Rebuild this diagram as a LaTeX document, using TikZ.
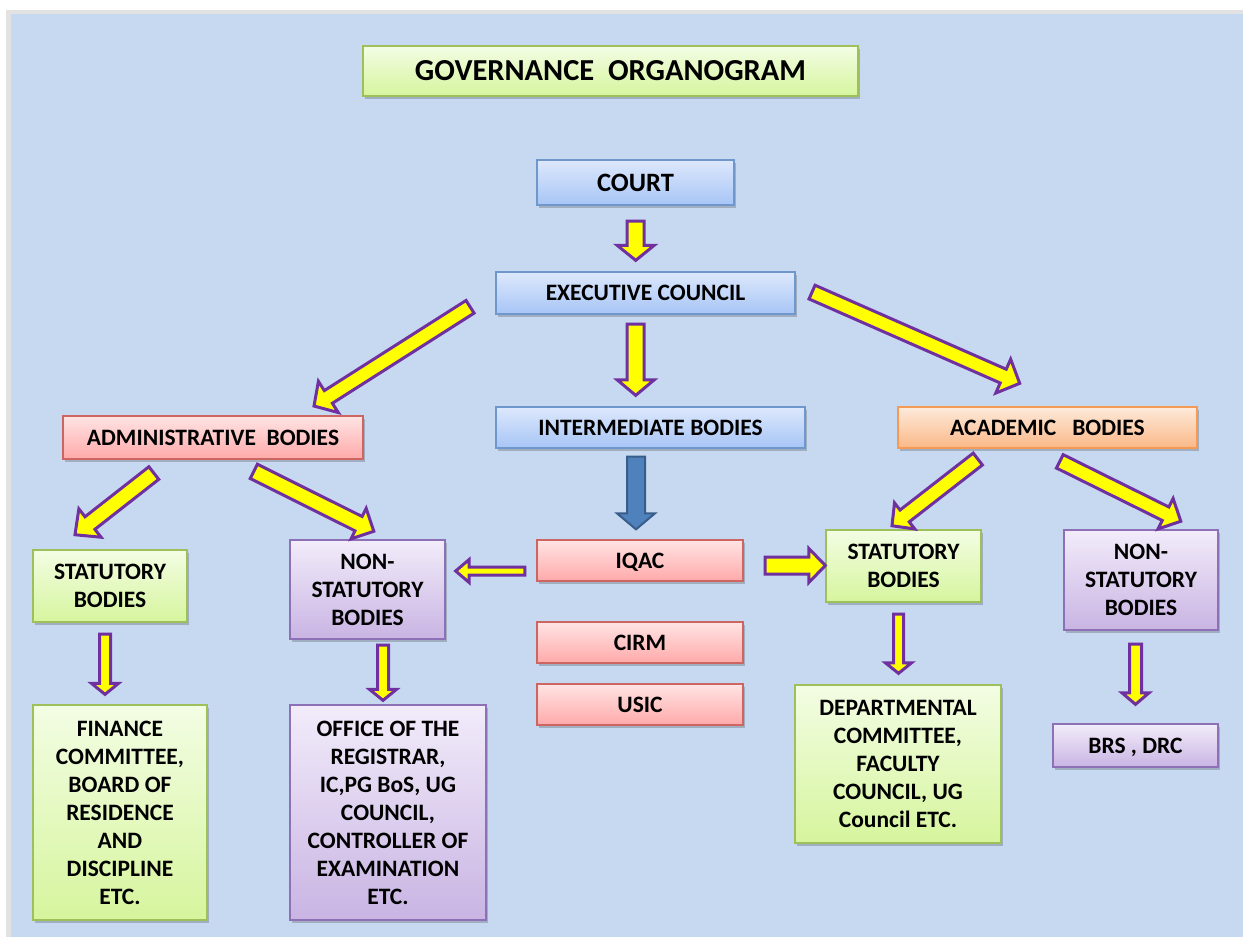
\documentclass[tikz,border=0pt]{standalone}
\usepackage{fontspec}
\setmainfont{Carlito}
\usetikzlibrary{calc,shadows}
\definecolor{bgblue}{HTML}{C6D9F1}
\definecolor{framegray}{HTML}{E2E2E2}
\definecolor{arrpurple}{HTML}{7030A0}
\definecolor{arryellow}{HTML}{FFFF00}
\definecolor{bluetop}{HTML}{DDE8FC}
\definecolor{bluebot}{HTML}{A7C5F6}
\definecolor{blueline}{HTML}{6F97CB}
\definecolor{redtop}{HTML}{FFE4E4}
\definecolor{redbot}{HTML}{FFA9A9}
\definecolor{redline}{HTML}{CD6663}
\definecolor{orangetop}{HTML}{FDEADB}
\definecolor{orangebot}{HTML}{FBB887}
\definecolor{orangeline}{HTML}{F59A55}
\definecolor{greentop}{HTML}{F3FDE4}
\definecolor{greenbot}{HTML}{D6F59D}
\definecolor{greenline}{HTML}{9DC05A}
\definecolor{purpletop}{HTML}{F2ECFA}
\definecolor{purplebot}{HTML}{C9B4E3}
\definecolor{purpleline}{HTML}{8E70B6}
\definecolor{arrblue}{HTML}{4F81BD}
\definecolor{arrblueline}{HTML}{385D8A}
\newcommand\bxfont{\bfseries\fontsize{23.5}{28}\selectfont}
\newcommand\barrow[6][yarrow]{%
  \path ($(#3)!#6pt!(#2)$) coordinate (bh);
  \draw[#1] ($(#2)!#4pt!90:(#3)$) -- ($(bh)!#4pt!-90:(#2)$) -- ($(bh)!#5pt!-90:(#2)$)
    -- (#3) -- ($(bh)!#5pt!90:(#2)$) -- ($(bh)!#4pt!90:(#2)$) -- ($(#2)!#4pt!-90:(#3)$) -- cycle;
}
\tikzset{
  box/.style={draw, line width=1.3pt, inner sep=0pt, align=center, font=\bxfont,
    drop shadow={shadow xshift=1.5pt, shadow yshift=-2.5pt, opacity=0.3, fill=black!70}},
  oneline/.style={text height=15.1pt, text depth=0pt},
  bluebox/.style={box, draw=blueline, top color=bluetop, bottom color=bluebot},
  redbox/.style={box, draw=redline, top color=redtop, bottom color=redbot},
  orangebox/.style={box, draw=orangeline, top color=orangetop, bottom color=orangebot},
  greenbox/.style={box, draw=greenline, top color=greentop, bottom color=greenbot},
  purplebox/.style={box, draw=purpleline, top color=purpletop, bottom color=purplebot},
  yarrow/.style={fill=arryellow, draw=arrpurple, line width=3pt, line join=miter},
  barrowblue/.style={fill=arrblue, draw=arrblueline, line width=2pt, line join=miter},
}
\begin{document}
\begin{tikzpicture}[x=1pt,y=-1pt]
\useasboundingbox (0,0) rectangle (1243,937);
\fill[white] (0,0) rectangle (1243,937);
\fill[framegray] (6,10) rectangle (1243,937);
\fill[bgblue] (11,14) rectangle (1243,937);

% nodes
\node[greenbox, minimum width=495pt, minimum height=50pt, font=\bfseries\fontsize{30.5}{34}\selectfont, text height=19.6pt, text depth=0pt] (title) at (610.5,71) {GOVERNANCE\ \ ORGANOGRAM};
\node[bluebox, minimum width=197pt, minimum height=45pt, font=\bfseries\fontsize{26.5}{30}\selectfont, text height=17pt, text depth=0pt] (court) at (635.5,182.5) {COURT};
\node[bluebox, oneline, minimum width=299pt, minimum height=42pt] (ec) at (645.5,293) {EXECUTIVE COUNCIL};
\node[bluebox, oneline, minimum width=309pt, minimum height=41pt] (inter) at (650.5,427.5) {INTERMEDIATE BODIES};
\node[redbox, oneline, minimum width=300pt, minimum height=43pt] (admin) at (213,437.5) {ADMINISTRATIVE\ \ BODIES};
\node[orangebox, oneline, minimum width=299pt, minimum height=41pt] (acad) at (1047.5,427.5) {ACADEMIC\ \ \ BODIES};
\node[greenbox, minimum width=154pt, minimum height=72pt] (lstat) at (110,586) {STATUTORY\\BODIES};
\node[purplebox, minimum width=155pt, minimum height=99pt] (lnon) at (367.5,589.5) {NON-\\STATUTORY\\BODIES};
\node[redbox, oneline, minimum width=206pt, minimum height=41pt] (iqac) at (640,560.5) {IQAC};
\node[redbox, oneline, minimum width=206pt, minimum height=41pt] (cirm) at (640,642.5) {CIRM};
\node[redbox, oneline, minimum width=206pt, minimum height=41pt] (usic) at (640,704.5) {USIC};
\node[greenbox, minimum width=155pt, minimum height=72pt] (rstat) at (903.5,566) {STATUTORY\\BODIES};
\node[purplebox, minimum width=154pt, minimum height=100pt] (rnon) at (1141,580) {NON-\\STATUTORY\\BODIES};
\node[greenbox, minimum width=174pt, minimum height=215pt] (fin) at (120,812.5) {FINANCE\\COMMITTEE,\\BOARD OF\\RESIDENCE\\AND\\DISCIPLINE\\ETC.};
\node[purplebox, minimum width=196pt, minimum height=215pt] (off) at (388,812.5) {OFFICE OF THE\\REGISTRAR,\\IC,PG BoS, UG\\COUNCIL,\\CONTROLLER OF\\EXAMINATION\\ETC.};
\node[greenbox, minimum width=206pt, minimum height=158pt] (dept) at (898,764) {DEPARTMENTAL\\COMMITTEE,\\FACULTY\\COUNCIL, UG\\Council ETC.};
\node[purplebox, oneline, minimum width=165pt, minimum height=43pt] (brs) at (1135.5,745.5) {BRS , DRC};

% arrow end points
\coordinate (a1s) at ($(court.south)+(0.2,15.5)$);
\coordinate (a1e) at ($(ec.north)+(-9.8,-11)$);
\coordinate (a2s) at ($(ec.south)+(-9.8,9.5)$);
\coordinate (a2e) at ($(inter.north)+(-14.8,-11)$);
\coordinate (a3s) at ($(ec.west)+(-25.3,13.8)$);
\coordinate (a3e) at ($(admin.north)+(101,-9.3)$);
\coordinate (a4s) at ($(ec.east)+(16.4,-0.9)$);
\coordinate (a4e) at ($(acad.north)+(-27.8,-23)$);
\coordinate (a5s) at ($(admin.south)+(-59.2,13.4)$);
\coordinate (a5e) at ($(lstat.north)+(-35,-14.6)$);
\coordinate (a6s) at ($(admin.south)+(40.8,11.7)$);
\coordinate (a6e) at ($(lnon.north)+(6.3,-8.1)$);
\coordinate (a7s) at ($(inter.south)+(-14.5,8)$);
\coordinate (a7e) at ($(iqac.north)+(-4,-10)$);
\coordinate (a8s) at ($(iqac.west)+(-11.5,10.5)$);
\coordinate (a8e) at ($(lnon.east)+(10,-18.5)$);
\coordinate (a9s) at ($(iqac.east)+(21.5,5)$);
\coordinate (a9e) at ($(rstat.west)+(0,-0.5)$);
\coordinate (a10s) at ($(acad.south)+(-69.7,10.4)$);
\coordinate (a10e) at ($(rstat.north)+(-11.5,-3.6)$);
\coordinate (a11s) at ($(acad.south)+(12.3,12.7)$);
\coordinate (a11e) at ($(rnon.north)+(39.8,-8.1)$);
\coordinate (a12s) at ($(lstat.south)+(-5,11.5)$);
\coordinate (a12e) at ($(fin.north)+(-15,-10)$);
\coordinate (a13s) at ($(lnon.south)+(15.5,5.5)$);
\coordinate (a13e) at ($(off.north)+(-5,-4)$);
\coordinate (a14s) at ($(rstat.south)+(-5,11.5)$);
\coordinate (a14e) at ($(dept.north)+(0.5,-11)$);
\coordinate (a15s) at ($(rnon.south)+(-5.5,13.5)$);
\coordinate (a15e) at ($(brs.north)+(0,-19)$);

% block arrows
\barrow{a1s}{a1e}{8.5}{18.5}{15}
\barrow{a2s}{a2e}{8.5}{18.5}{15.5}
\barrow{a3s}{a3e}{7.5}{18.5}{17}
\barrow{a4s}{a4e}{7.5}{18.5}{18}
\barrow{a5s}{a5e}{8}{18}{19}
\barrow{a6s}{a6e}{8}{17}{17}
\barrow[barrowblue]{a7s}{a7e}{9}{19}{16}
\barrow{a8s}{a8e}{4}{11.5}{13.5}
\barrow{a9s}{a9e}{8.5}{17}{16.5}
\barrow{a10s}{a10e}{7.5}{16.5}{16}
\barrow{a11s}{a11e}{7.5}{17}{17}
\barrow{a12s}{a12e}{5.5}{13.5}{11}
\barrow{a13s}{a13e}{5.5}{13.5}{11}
\barrow{a14s}{a14e}{5}{13}{10.5}
\barrow{a15s}{a15e}{6}{13.5}{11.5}
\end{tikzpicture}
\end{document}
